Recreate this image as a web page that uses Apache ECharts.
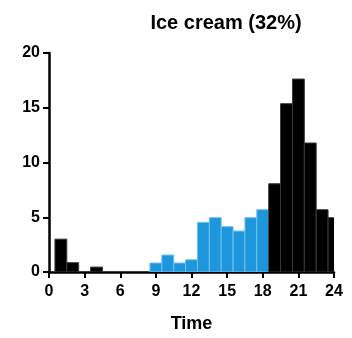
<!DOCTYPE html>
<html><head><meta charset="utf-8">
<script src="https://cdn.jsdelivr.net/npm/echarts@6/dist/echarts.min.js"></script>
<style>html,body{margin:0;padding:0;background:#fff}#c{width:352px;height:338px}</style>
</head><body><div id="c"></div>
<script>
var hours = [1,2,3,4,5,6,7,8,9,10,11,12,13,14,15,16,17,18,19,20,21,22,23,24];
var counts = [3.0,0.85,0,0.45,0,0,0,0,0.82,1.55,0.82,1.12,4.53,4.96,4.14,3.74,4.96,5.69,8.06,15.37,17.62,11.78,5.69,4.96];
var groups = ['k','k','k','k','k','k','k','k','b','b','b','b','b','b','b','b','b','b','k','k','k','k','k','k'];
var xTicks = [0,3,6,9,12,15,18,21,24];
var yTicks = [0,5,10,15,20];
var titleText = 'Ice cream (32%)';
var xName = 'Time';

var data = hours.map(function(h,i){return [h, counts[i], groups[i]];});
var chart = echarts.init(document.getElementById('c'));
var FONT = 'Liberation Sans, Arial, sans-serif';
chart.setOption({
  animation:false,
  title:{text:titleText,left:221,top:8,textAlign:'center',textStyle:{fontFamily:FONT,fontWeight:'bold',fontSize:20,color:'#000'}},
  grid:{left:49,right:18,top:53,bottom:66},
  xAxis:{type:'value',min:0,max:24,interval:3,
    name:xName,nameLocation:'middle',nameGap:43,nameTextStyle:{fontFamily:FONT,fontWeight:'bold',fontSize:18,color:'#000'},
    axisLine:{onZero:false,lineStyle:{color:'#000',width:2.5}},
    axisTick:{show:true,inside:false,length:6,lineStyle:{color:'#000',width:2}},
    axisLabel:{fontFamily:FONT,fontWeight:'bold',fontSize:16,color:'#000',margin:12},
    splitLine:{show:false}},
  yAxis:{type:'value',min:0,max:20,interval:5,
    axisLine:{show:true,lineStyle:{color:'#000',width:2.5}},
    axisTick:{show:true,length:6,lineStyle:{color:'#000',width:2}},
    axisLabel:{fontFamily:FONT,fontWeight:'bold',fontSize:16,color:'#000',margin:9},
    splitLine:{show:false}},
  series:[{
    type:'custom',clip:true,
    data:data,
    renderItem:function(params,api){
      var x=api.value(0), y=api.value(1);
      if(y<=0) return null;
      var p0=api.coord([x-0.5,y]);
      var p1=api.coord([x+0.5,0]);
      var blue = data[params.dataIndex][2]==='b';
      return {type:'rect',shape:{x:p0[0],y:p0[1],width:p1[0]-p0[0],height:p1[1]-p0[1]},
        style:{fill:blue?'#1e96dc':'#000',stroke:blue?'#6cc0ee':'#3a3a3a',lineWidth:1}};
    },
    encode:{x:0,y:1}
  }]
});
</script></body></html>
